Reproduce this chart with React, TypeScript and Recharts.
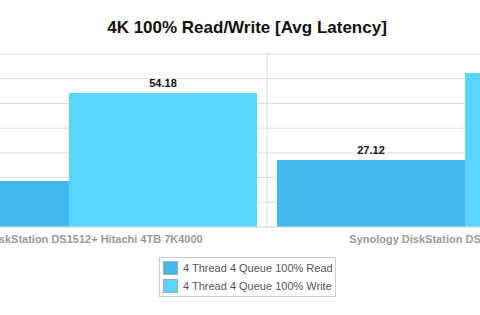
import { BarChart, Bar, XAxis, YAxis, CartesianGrid, LabelList } from 'recharts';

const categories = [
  'Synology DiskStation DS1512+ Hitachi 4TB 7K4000',
  'Synology DiskStation DS1512+ WD Red 3TB',
];
const readLatency = [18.61, 27.12];
const writeLatency = [54.18, 62.31];
const seriesNames = ['4 Thread 4 Queue 100% Read', '4 Thread 4 Queue 100% Write'];
const seriesColors = ['#43b8ec', '#5bd4ff'];
const yTicks = [0, 10, 20, 30, 40, 50, 60, 70];

const chartData = categories.map((name, i) => ({
  name,
  read: readLatency[i],
  write: writeLatency[i],
}));

const font = '"Liberation Sans", Arial, Helvetica, sans-serif';

export default function App() {
  return (
    <div
      style={{
        position: 'fixed',
        left: 0,
        top: 0,
        width: 480,
        height: 315,
        overflow: 'hidden',
        background: '#fff',
        fontFamily: font,
      }}
    >
      <div
        style={{
          position: 'absolute',
          left: 0,
          width: 494,
          top: 18,
          textAlign: 'center',
          fontSize: 17,
          fontWeight: 'bold',
          color: '#111',
        }}
      >
        4K 100% Read/Write [Avg Latency]
      </div>

      <div style={{ position: 'absolute', left: -129, top: 0 }}>
        <BarChart
          width={792}
          height={315}
          data={chartData}
          margin={{ top: 54, right: 0, left: 0, bottom: 58 }}
          barCategoryGap={10}
          barGap={0}
        >
          <CartesianGrid
            stroke="#dcdcdc"
            verticalCoordinatesGenerator={({ offset }: any) => [
              offset.left,
              offset.left + offset.width / 2,
              offset.left + offset.width,
            ]}
          />
          <XAxis
            dataKey="name"
            height={30}
            interval={0}
            tickLine={false}
            axisLine={{ stroke: '#dcdcdc' }}
            tick={{ fill: '#999', fontSize: 11, fontWeight: 'bold', fontFamily: font }}
            tickMargin={2}
          />
          <YAxis hide domain={[0, 70]} ticks={yTicks} />
          <Bar dataKey="read" name={seriesNames[0]} fill={seriesColors[0]} isAnimationActive={false}>
            <LabelList
              dataKey="read"
              position="top"
              offset={6}
              style={{ fill: '#111', fontSize: 11, fontWeight: 'bold', fontFamily: font }}
            />
          </Bar>
          <Bar dataKey="write" name={seriesNames[1]} fill={seriesColors[1]} isAnimationActive={false}>
            <LabelList
              dataKey="write"
              position="top"
              offset={6}
              style={{ fill: '#111', fontSize: 11, fontWeight: 'bold', fontFamily: font }}
            />
          </Bar>
        </BarChart>
      </div>

      <div
        style={{
          position: 'absolute',
          left: 159,
          top: 257,
          width: 175,
          height: 36,
          border: '1px solid #ccc',
          boxSizing: 'content-box',
          padding: '1px 0',
        }}
      >
        {seriesNames.map((n, i) => (
          <div key={n} style={{ display: 'flex', alignItems: 'center', height: 18 }}>
            <span
              style={{
                display: 'inline-block',
                width: 13,
                height: 12,
                marginLeft: 3,
                marginRight: 5,
                background: seriesColors[i],
                border: '1px solid #aaa',
              }}
            />
            <span style={{ fontSize: 11, color: '#555' }}>{n}</span>
          </div>
        ))}
      </div>
    </div>
  );
}
